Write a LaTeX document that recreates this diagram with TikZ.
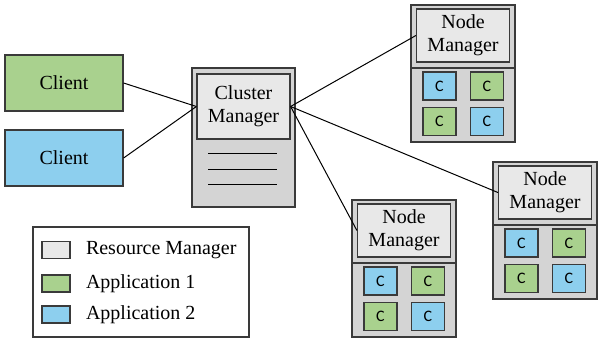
\documentclass[tikz,border=0pt]{standalone}
\usepackage{fontspec}
\setmainfont{Liberation Serif}
\newfontfamily\cfont{Carlito}
\usetikzlibrary{positioning}

\definecolor{appgreen}{HTML}{A9D18E}
\definecolor{appblue}{HTML}{8DCFEE}
\definecolor{rmgray}{HTML}{E8E8E8}
\definecolor{boxgray}{HTML}{D4D4D4}
\definecolor{edgegray}{HTML}{3A3A3A}

\tikzset{
    every node/.style={font=\fontsize{10}{11.5}\selectfont},
    client/.style={draw=edgegray,line width=0.6pt,minimum width=59pt,minimum height=28pt,inner sep=0pt},
    rmbox/.style={draw=edgegray,fill=rmgray,line width=0.6pt,align=center,inner sep=0pt,minimum width=46.5pt},
    cbox/.style={draw=edgegray,line width=0.6pt,minimum width=16.5pt,minimum height=14pt,inner sep=0pt,font=\cfont\fontsize{8}{9}\selectfont},
    outerbox/.style={draw=edgegray,fill=boxgray,line width=0.6pt},
    swatch/.style={draw=edgegray,line width=0.6pt,minimum width=14pt,minimum height=8.5pt,inner sep=0pt},
    link/.style={line width=0.5pt}
}

\begin{document}
\begin{tikzpicture}[x=0.5pt,y=-0.5pt]
    \useasboundingbox (0,0) rectangle (598,339);

    % clients
    \node[client,fill=appgreen] (cla) at (64,83) {Client};
    \node[client,fill=appblue] (clb) at (64,158) {Client};

    % cluster manager
    \draw[outerbox] (192,68) rectangle (295,207);
    \node[rmbox,minimum height=32.5pt] (cm) at (243.5,106.5) {Cluster\\Manager};
    \foreach \ly in {153,169,184}
        \draw[link] (208,\ly) -- (277,\ly);

    % node managers
    \foreach \nm/\nx/\ny in {nma/411/5,nmb/352/200,nmc/493/162}{
        \begin{scope}[shift={(\nx,\ny)}]
            \draw[outerbox] (0,0) rectangle (104,137);
            \draw[edgegray,line width=0.6pt] (0,63) -- (104,63);
            \node[rmbox,minimum height=26.5pt] (\nm) at (52,30.5) {Node\\Manager};
            \node[cbox,fill=appblue] (\nm-c1) at (28.5,81) {C};
            \node[cbox,fill=appgreen] (\nm-c2) at (76,81) {C};
            \node[cbox,fill=appgreen] (\nm-c3) at (28.5,116.5) {C};
            \node[cbox,fill=appblue] (\nm-c4) at (76,116.5) {C};
        \end{scope}
    }

    % links
    \draw[link] (cla.east) -- (cm.west);
    \draw[link] (clb.east) -- (cm.west);
    \draw[link] (cm.east) -- (nma.west);
    \draw[link] (cm.east) -- (nmb.west);
    \draw[link] (cm.east) -- (nmc.west);

    % legend
    \draw[edgegray,line width=0.6pt] (33,227) rectangle (249,337);
    \node[swatch,fill=rmgray] (swa) at (56,250) {};
    \node[swatch,fill=appgreen] (swb) at (56,283.5) {};
    \node[swatch,fill=appblue] (swc) at (56,314.5) {};
    \node[inner sep=0pt,right=7.5pt of swa] (lga) {Resource Manager};
    \node[inner sep=0pt,right=7.5pt of swb] (lgb) {Application 1};
    \node[inner sep=0pt,right=7.5pt of swc] (lgc) {Application 2};
\end{tikzpicture}
\end{document}
